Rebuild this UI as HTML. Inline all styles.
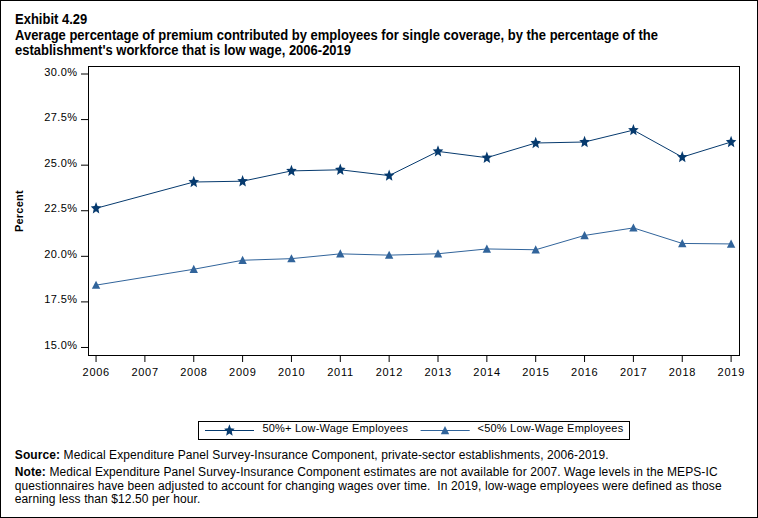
<!DOCTYPE html>
<html><head><meta charset="utf-8"><style>
html,body{margin:0;padding:0;background:#fff;}
body{width:758px;height:518px;overflow:hidden;position:relative;}
svg{position:absolute;left:0;top:0;}
text{font-family:"Liberation Sans",sans-serif;fill:#000;white-space:pre;}
.t{font-size:13px;font-weight:bold;}
.yl{font-size:11px;letter-spacing:0.38px;}
.xl{font-size:11px;letter-spacing:0.73px;}
.lg{font-size:11px;letter-spacing:0.2px;}
.yt{font-size:11px;font-weight:bold;letter-spacing:0.2px;}
.f{font-size:12px;letter-spacing:0.1px;}
.fb{font-weight:bold;}
</style></head><body>
<svg width="758" height="518" viewBox="0 0 758 518" xml:space="preserve">
<rect x="0.5" y="0.5" width="757" height="517" fill="#fff" stroke="#000" stroke-width="1"/>
<text class="t" transform="translate(15.0,24.0) scale(1,1.12)">Exhibit 4.29</text>
<text class="t" transform="translate(15.0,39.85) scale(1,1.12)">Average percentage of premium contributed by employees for single coverage, by the percentage of the</text>
<text class="t" transform="translate(15.0,54.8) scale(1,1.12)">establishment's workforce that is low wage, 2006-2019</text>
<text class="yt" transform="translate(22.8,232) rotate(-90)" x="0" y="0">Percent</text>
<rect x="88.5" y="66.5" width="651" height="289" fill="none" stroke="#000" stroke-width="1"/>
<line x1="81" x2="88" y1="74.00" y2="74.00" stroke="#000" stroke-width="1"/>
<text class="yl" x="77.3" y="75.50" text-anchor="end">30.0%</text>
<line x1="81" x2="88" y1="119.58" y2="119.58" stroke="#000" stroke-width="1"/>
<text class="yl" x="77.3" y="121.08" text-anchor="end">27.5%</text>
<line x1="81" x2="88" y1="165.16" y2="165.16" stroke="#000" stroke-width="1"/>
<text class="yl" x="77.3" y="166.66" text-anchor="end">25.0%</text>
<line x1="81" x2="88" y1="210.74" y2="210.74" stroke="#000" stroke-width="1"/>
<text class="yl" x="77.3" y="212.24" text-anchor="end">22.5%</text>
<line x1="81" x2="88" y1="256.32" y2="256.32" stroke="#000" stroke-width="1"/>
<text class="yl" x="77.3" y="257.82" text-anchor="end">20.0%</text>
<line x1="81" x2="88" y1="301.90" y2="301.90" stroke="#000" stroke-width="1"/>
<text class="yl" x="77.3" y="303.40" text-anchor="end">17.5%</text>
<line x1="81" x2="88" y1="347.48" y2="347.48" stroke="#000" stroke-width="1"/>
<text class="yl" x="77.3" y="348.98" text-anchor="end">15.0%</text>
<line x1="96.05" x2="96.05" y1="356" y2="362" stroke="#000" stroke-width="1"/>
<text class="xl" x="96.25" y="375.5" text-anchor="middle">2006</text>
<line x1="144.90" x2="144.90" y1="356" y2="362" stroke="#000" stroke-width="1"/>
<text class="xl" x="145.10" y="375.5" text-anchor="middle">2007</text>
<line x1="193.75" x2="193.75" y1="356" y2="362" stroke="#000" stroke-width="1"/>
<text class="xl" x="193.95" y="375.5" text-anchor="middle">2008</text>
<line x1="242.60" x2="242.60" y1="356" y2="362" stroke="#000" stroke-width="1"/>
<text class="xl" x="242.80" y="375.5" text-anchor="middle">2009</text>
<line x1="291.45" x2="291.45" y1="356" y2="362" stroke="#000" stroke-width="1"/>
<text class="xl" x="291.65" y="375.5" text-anchor="middle">2010</text>
<line x1="340.30" x2="340.30" y1="356" y2="362" stroke="#000" stroke-width="1"/>
<text class="xl" x="340.50" y="375.5" text-anchor="middle">2011</text>
<line x1="389.15" x2="389.15" y1="356" y2="362" stroke="#000" stroke-width="1"/>
<text class="xl" x="389.35" y="375.5" text-anchor="middle">2012</text>
<line x1="438.00" x2="438.00" y1="356" y2="362" stroke="#000" stroke-width="1"/>
<text class="xl" x="438.20" y="375.5" text-anchor="middle">2013</text>
<line x1="486.85" x2="486.85" y1="356" y2="362" stroke="#000" stroke-width="1"/>
<text class="xl" x="487.05" y="375.5" text-anchor="middle">2014</text>
<line x1="535.70" x2="535.70" y1="356" y2="362" stroke="#000" stroke-width="1"/>
<text class="xl" x="535.90" y="375.5" text-anchor="middle">2015</text>
<line x1="584.55" x2="584.55" y1="356" y2="362" stroke="#000" stroke-width="1"/>
<text class="xl" x="584.75" y="375.5" text-anchor="middle">2016</text>
<line x1="633.40" x2="633.40" y1="356" y2="362" stroke="#000" stroke-width="1"/>
<text class="xl" x="633.60" y="375.5" text-anchor="middle">2017</text>
<line x1="682.25" x2="682.25" y1="356" y2="362" stroke="#000" stroke-width="1"/>
<text class="xl" x="682.45" y="375.5" text-anchor="middle">2018</text>
<line x1="731.10" x2="731.10" y1="356" y2="362" stroke="#000" stroke-width="1"/>
<text class="xl" x="731.30" y="375.5" text-anchor="middle">2019</text>
<polyline fill="none" stroke="#063a6e" stroke-width="1.0" points="96.05,208.30 193.75,182.00 242.60,181.20 291.45,170.90 340.30,169.80 389.15,175.60 438.00,151.40 486.85,157.70 535.70,143.00 584.55,142.00 633.40,130.10 682.25,157.10 731.10,142.00"/>
<polyline fill="none" stroke="#31649b" stroke-width="1.0" points="96.05,285.15 193.75,269.25 242.60,260.25 291.45,258.65 340.30,253.85 389.15,255.15 438.00,253.75 486.85,248.95 535.70,249.75 584.55,235.45 633.40,227.90 682.25,243.45 731.10,243.95"/>
<g fill="#063a6e"><polygon points="96.05,202.10 97.52,206.11 101.32,206.45 98.42,209.28 99.31,213.50 96.05,211.24 92.79,213.50 93.68,209.28 90.78,206.45 94.58,206.11"/><polygon points="193.75,175.80 195.22,179.81 199.02,180.15 196.12,182.98 197.01,187.20 193.75,184.94 190.49,187.20 191.38,182.98 188.48,180.15 192.28,179.81"/><polygon points="242.60,175.00 244.07,179.01 247.87,179.35 244.97,182.18 245.86,186.40 242.60,184.14 239.34,186.40 240.23,182.18 237.33,179.35 241.13,179.01"/><polygon points="291.45,164.70 292.92,168.71 296.72,169.05 293.82,171.88 294.71,176.10 291.45,173.84 288.19,176.10 289.08,171.88 286.18,169.05 289.98,168.71"/><polygon points="340.30,163.60 341.77,167.61 345.57,167.95 342.67,170.78 343.56,175.00 340.30,172.74 337.04,175.00 337.93,170.78 335.03,167.95 338.83,167.61"/><polygon points="389.15,169.40 390.62,173.41 394.42,173.75 391.52,176.58 392.41,180.80 389.15,178.54 385.89,180.80 386.78,176.58 383.88,173.75 387.68,173.41"/><polygon points="438.00,145.20 439.47,149.21 443.27,149.55 440.37,152.38 441.26,156.60 438.00,154.34 434.74,156.60 435.63,152.38 432.73,149.55 436.53,149.21"/><polygon points="486.85,151.50 488.32,155.51 492.12,155.85 489.22,158.68 490.11,162.90 486.85,160.64 483.59,162.90 484.48,158.68 481.58,155.85 485.38,155.51"/><polygon points="535.70,136.80 537.17,140.81 540.97,141.15 538.07,143.98 538.96,148.20 535.70,145.94 532.44,148.20 533.33,143.98 530.43,141.15 534.23,140.81"/><polygon points="584.55,135.80 586.02,139.81 589.82,140.15 586.92,142.98 587.81,147.20 584.55,144.94 581.29,147.20 582.18,142.98 579.28,140.15 583.08,139.81"/><polygon points="633.40,123.90 634.87,127.91 638.67,128.25 635.77,131.08 636.66,135.30 633.40,133.04 630.14,135.30 631.03,131.08 628.13,128.25 631.93,127.91"/><polygon points="682.25,150.90 683.72,154.91 687.52,155.25 684.62,158.08 685.51,162.30 682.25,160.04 678.99,162.30 679.88,158.08 676.98,155.25 680.78,154.91"/><polygon points="731.10,135.80 732.57,139.81 736.37,140.15 733.47,142.98 734.36,147.20 731.10,144.94 727.84,147.20 728.73,142.98 725.83,140.15 729.63,139.81"/></g>
<g fill="#31649b"><polygon points="96.05,280.64 100.25,288.84 91.85,288.84"/><polygon points="193.75,264.74 197.95,272.94 189.55,272.94"/><polygon points="242.60,255.74 246.80,263.94 238.40,263.94"/><polygon points="291.45,254.14 295.65,262.34 287.25,262.34"/><polygon points="340.30,249.34 344.50,257.54 336.10,257.54"/><polygon points="389.15,250.64 393.35,258.84 384.95,258.84"/><polygon points="438.00,249.24 442.20,257.44 433.80,257.44"/><polygon points="486.85,244.44 491.05,252.64 482.65,252.64"/><polygon points="535.70,245.24 539.90,253.44 531.50,253.44"/><polygon points="584.55,230.94 588.75,239.14 580.35,239.14"/><polygon points="633.40,223.39 637.60,231.59 629.20,231.59"/><polygon points="682.25,238.94 686.45,247.14 678.05,247.14"/><polygon points="731.10,239.44 735.30,247.64 726.90,247.64"/></g>
<rect x="198.5" y="421.5" width="431" height="18" fill="none" stroke="#000" stroke-width="1"/>
<line x1="205" x2="254" y1="430.5" y2="430.5" stroke="#063a6e" stroke-width="1.0"/>
<g fill="#063a6e"><polygon points="229.40,424.30 230.87,428.31 234.67,428.65 231.77,431.48 232.66,435.70 229.40,433.44 226.14,435.70 227.03,431.48 224.13,428.65 227.93,428.31"/></g>
<text class="lg" x="262.4" y="431.7">50%+ Low-Wage Employees</text>
<line x1="420.6" x2="469.7" y1="430.5" y2="430.5" stroke="#31649b" stroke-width="1.0"/>
<g fill="#31649b"><polygon points="445.00,426.09 449.20,434.29 440.80,434.29"/></g>
<text class="lg" x="477.6" y="431.7">&lt;50% Low-Wage Employees</text>
<text class="f" x="14.8" y="458.9"><tspan class="fb">Source:</tspan> Medical Expenditure Panel Survey-Insurance Component, private-sector establishments, 2006-2019.</text>
<text class="f" x="14.8" y="476.0"><tspan class="fb">Note:</tspan> Medical Expenditure Panel Survey-Insurance Component estimates are not available for 2007. Wage levels in the MEPS-IC</text>
<text class="f" x="14.8" y="490.1">questionnaires have been adjusted to account for changing wages over time.  In 2019, low-wage employees were defined as those</text>
<text class="f" x="14.8" y="503.1">earning less than $12.50 per hour.</text>
</svg>
</body></html>
